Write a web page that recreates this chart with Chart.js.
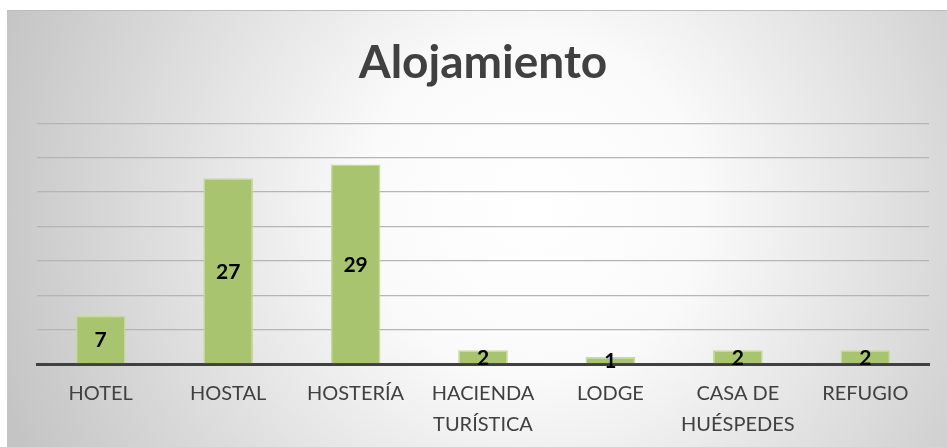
<!DOCTYPE html>
<html>
<head>
<meta charset="utf-8">
<script src="https://cdn.jsdelivr.net/npm/chart.js@4"></script>
<style>
  body { margin: 0; background: #fff; }
  #wrap { position: absolute; left: 7px; top: 10px; width: 940px; height: 437px; }
</style>
</head>
<body>
<div id="wrap"><canvas id="myChart"></canvas></div>
<script>
const categories = ['HOTEL', 'HOSTAL', 'HOSTERÍA', ['HACIENDA', 'TURÍSTICA'], 'LODGE', ['CASA DE', 'HUÉSPEDES'], 'REFUGIO']
const values = [7, 27, 29, 2, 1, 2, 2]
const chartTitle = 'Alojamiento'

const ctx = document.getElementById('myChart')

// radial grey background like the office chart area
const background = {
    id: 'background',
    beforeDraw(chart) {
        const c = chart.ctx
        const w = chart.width, h = chart.height
        const g = c.createRadialGradient(w * 0.56, h * 0.45, 0, w * 0.56, h * 0.45, w * 0.6)
        g.addColorStop(0, '#ffffff')
        g.addColorStop(0.3, '#fafafa')
        g.addColorStop(1, '#c4c4c4')
        c.save()
        c.fillStyle = g
        c.fillRect(0, 0, w, h)
        c.fillStyle = '#bdbdbd'
        c.fillRect(0, 0, w, 1)
        c.restore()
    }
}

// value labels in the middle of each bar, drawn last so they sit over the axis line
const barLabels = {
    id: 'barLabels',
    afterDraw(chart) {
        const c = chart.ctx
        const meta = chart.getDatasetMeta(0)
        c.save()
        c.font = 'bold 21px Lato'
        c.fillStyle = '#000'
        c.textAlign = 'center'
        c.textBaseline = 'middle'
        meta.data.forEach((bar, i) => {
            c.fillText(values[i], bar.x, (bar.y + bar.base) / 2 + 1)
        })
        c.restore()
    }
}

new Chart(ctx, {
    type: 'bar',
    data: {
        labels: categories,
        datasets: [{
            data: values,
            backgroundColor: '#a9c46e',
            borderColor: '#c6da9c',
            borderWidth: 1.5,
            categoryPercentage: 1,
            barPercentage: 0.39
        }]
    },
    options: {
        responsive: true,
        maintainAspectRatio: false,
        animation: false,
        layout: { padding: { left: 30, right: 18, bottom: -7 } },
        plugins: {
            legend: { display: false },
            tooltip: { enabled: false },
            title: {
                display: true,
                text: chartTitle,
                color: '#404040',
                font: { family: 'Lato', size: 46, weight: 'bold' },
                padding: { top: 26, bottom: 32 }
            }
        },
        scales: {
            x: {
                z: 1,
                grid: { display: false, drawTicks: false },
                border: { color: '#404040', width: 3 },
                ticks: {
                    color: '#404040',
                    font: { family: 'Lato', size: 20, lineHeight: 1.55 },
                    padding: 14,
                    maxRotation: 0,
                    autoSkip: false
                }
            },
            y: {
                min: 0,
                max: 35,
                ticks: { display: false, stepSize: 5 },
                border: { display: false },
                grid: { color: '#b5b5b5', lineWidth: 1.3, drawTicks: false }
            }
        }
    },
    plugins: [background, barLabels]
})
</script>
</body>
</html>
